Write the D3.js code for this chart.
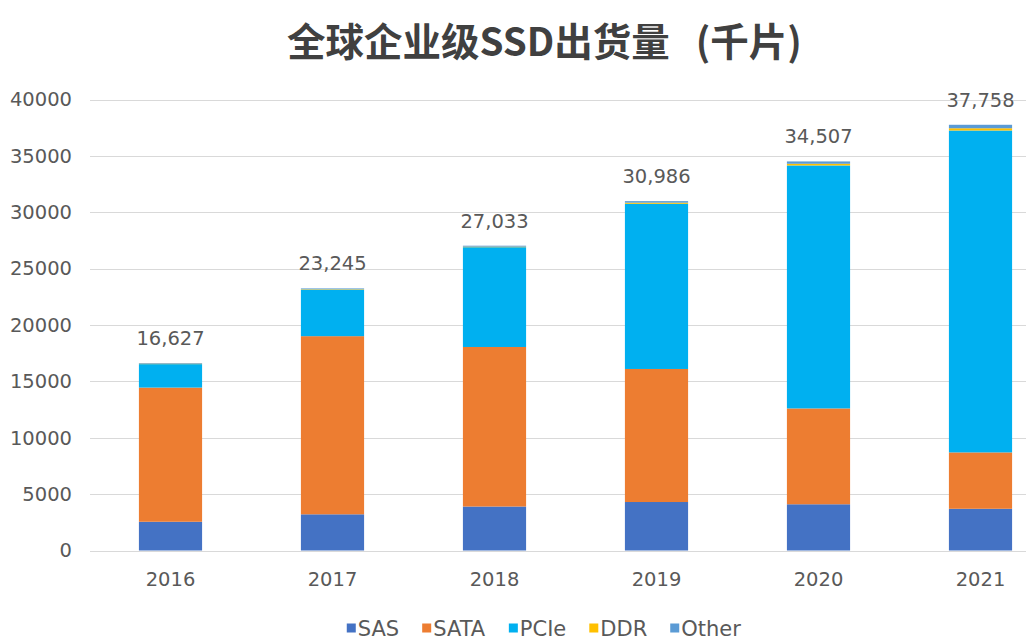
<!DOCTYPE html>
<html><head><meta charset="utf-8">
<script src="https://cdn.jsdelivr.net/npm/d3@7"></script>
<style>
html,body{margin:0;padding:0;background:#fff;}
svg{display:block;}
</style></head>
<body>
<svg id="chart" width="1026" height="644"></svg>
<script>
const years = ["2016","2017","2018","2019","2020","2021"];
const seriesNames = ["SAS","SATA","PCIe","DDR","Other"];
const SAS   = [2550, 3210, 3900, 4300, 4100, 3700];
const SATA  = [11900, 15800, 14150, 11800, 8500, 5000];
const PCIe  = [2080, 4130, 8850, 14650, 21550, 28550];
const DDR   = [40, 40, 50, 100, 150, 200];
const Other = [57, 65, 83, 136, 207, 308];
const totals = [16627, 23245, 27033, 30986, 34507, 37758];
const totalLabels = ["16,627","23,245","27,033","30,986","34,507","37,758"];
const yTicks = [0,5000,10000,15000,20000,25000,30000,35000,40000];
const colors = ["#4472C4","#ED7D31","#00B0F0","#FFC000","#5B9BD5"];
const titleMain = "全球企业级SSD出货量";
const titleUnit = "(千片)";

const svg = d3.select("#chart");
const x = d3.scaleBand().domain(years).range([89.5, 1061.5]).paddingInner(0.61).paddingOuter(0.305);
const y = d3.scaleLinear().domain([0, 40000]).range([550.5, 99.5]);

// gridlines
svg.append("g").selectAll("line").data(yTicks).join("line")
  .attr("x1", 90).attr("x2", 1061)
  .attr("y1", d => Math.round(y(d)) + 0.5).attr("y2", d => Math.round(y(d)) + 0.5)
  .attr("stroke", "#d9d9d9").attr("stroke-width", 1);

// y axis labels
const yAxis = d3.axisLeft(y).tickValues(yTicks).tickSize(0).tickPadding(0).tickFormat(d3.format("d"));
const ya = svg.append("g").attr("transform", "translate(72,0)").call(yAxis);
ya.select(".domain").remove();
ya.selectAll("text").attr("fill", "#595959").style("font-family", "DejaVu Sans").style("font-size", "19.5px");

// x axis labels
const xAxis = d3.axisBottom(x).tickSize(0).tickPadding(0);
const xa = svg.append("g").attr("transform", "translate(0,570)").call(xAxis);
xa.select(".domain").remove();
xa.selectAll("text").attr("fill", "#595959").style("font-family", "DejaVu Sans").style("font-size", "19.5px").attr("dy", "0.8em");

// stacked data
const table = years.map((yr, i) => ({year: yr, SAS: SAS[i], SATA: SATA[i], PCIe: PCIe[i], DDR: DDR[i], Other: Other[i]}));
const stack = d3.stack().keys(seriesNames)(table);

svg.append("g").selectAll("g").data(stack).join("g")
  .attr("fill", (d, i) => colors[i])
  .selectAll("rect").data(d => d).join("rect")
  .attr("x", d => x(d.data.year))
  .attr("width", x.bandwidth())
  .attr("y", d => y(d[1]))
  .attr("height", d => y(d[0]) - y(d[1]));

// total labels
svg.append("g").selectAll("text").data(years).join("text")
  .attr("x", d => x(d) + x.bandwidth() / 2)
  .attr("y", (d, i) => y(totals[i]) - 18)
  .attr("text-anchor", "middle")
  .attr("fill", "#595959")
  .style("font-family", "DejaVu Sans").style("font-size", "19.5px")
  .text((d, i) => totalLabels[i]);

// title
const title = svg.append("text").attr("y", 56)
  .attr("fill", "#404040")
  .style("font-family", "'Noto Sans CJK SC'").style("font-weight", "bold").style("font-size", "38.5px");
title.append("tspan").attr("x", 287).text(titleMain);
title.append("tspan").attr("dx", 26).text(titleUnit);

// legend
const legend = svg.append("g").attr("transform", "translate(0,628)");
const items = legend.selectAll("g").data(seriesNames).join("g");
items.append("rect").attr("width", 9).attr("height", 9).attr("y", -4.5).attr("fill", (d, i) => colors[i]);
items.append("text").attr("x", 11).attr("dy", "0.36em")
  .attr("fill", "#595959").style("font-family", "DejaVu Sans").style("font-size", "21px")
  .text(d => d);
let widths = [];
items.each(function() { widths.push(this.getBBox().width); });
const gap = 23;
const total = d3.sum(widths) + gap * (widths.length - 1);
let cx = 544 - total / 2;
items.each(function(d, i) { d3.select(this).attr("transform", `translate(${cx},0)`); cx += widths[i] + gap; });
</script>
</body></html>
